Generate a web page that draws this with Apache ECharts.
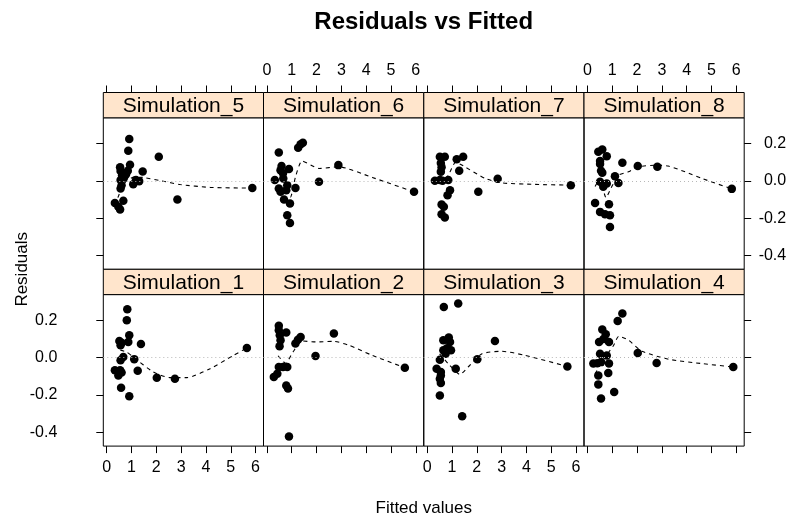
<!DOCTYPE html>
<html>
<head>
<meta charset="utf-8">
<script src="https://cdn.jsdelivr.net/npm/echarts@6/dist/echarts.min.js"></script>
<style>
html, body { margin: 0; background: #fff; }
#chart { width: 800px; height: 520px; }
</style>
</head>
<body>
<div id="chart"></div>
<script>
// panels as laid out: top row then bottom row
var topRow = ['Simulation_5', 'Simulation_6', 'Simulation_7', 'Simulation_8'];
var bottomRow = ['Simulation_1', 'Simulation_2', 'Simulation_3', 'Simulation_4'];
var xTicks = [0, 1, 2, 3, 4, 5, 6];
var yTicks = [-0.4, -0.2, 0, 0.2];

// residual points [fitted, residual]
var sim1Pts = [[0.83,0.259],[0.81,0.200],[0.91,0.120],[0.51,0.089],[0.87,0.084],[0.56,0.066],[1.38,0.073],[0.67,0.003],[1.11,-0.008],[0.56,-0.014],[5.65,0.052],[0.33,-0.068],[0.54,-0.068],[1.25,-0.070],[0.47,-0.095],[2.02,-0.107],[2.75,-0.113],[0.58,-0.161],[0.91,-0.206],[0.60,-0.080],[0.60,0.080]];
var sim2Pts = [[0.48,0.170],[0.78,0.134],[0.48,0.146],[0.55,0.093],[0.51,0.061],[1.36,0.110],[1.15,0.075],[1.25,0.095],[2.70,0.129],[1.96,0.009],[5.56,-0.054],[0.82,-0.050],[0.48,-0.050],[0.65,-0.050],[0.42,-0.086],[0.28,-0.104],[0.78,-0.149],[0.85,-0.165],[0.89,-0.422],[0.52,0.120]];
var sim3Pts = [[0.67,0.271],[1.25,0.290],[2.73,0.089],[0.65,0.093],[0.87,0.107],[0.92,0.084],[0.65,0.039],[0.96,0.039],[0.74,0.021],[0.51,-0.011],[2.02,-0.009],[0.38,-0.059],[1.15,-0.059],[0.55,-0.077],[0.51,-0.113],[0.55,-0.136],[5.65,-0.047],[0.51,-0.202],[1.41,-0.313],[0.55,-0.095],[0.80,0.050]];
var sim4Pts = [[1.41,0.236],[1.22,0.196],[0.60,0.150],[0.74,0.125],[0.47,0.084],[0.87,0.084],[2.03,0.025],[0.51,0.021],[0.78,0.012],[0.24,-0.032],[0.55,-0.024],[0.87,-0.032],[2.79,-0.029],[5.88,-0.050],[0.84,-0.082],[0.44,-0.095],[0.44,-0.143],[1.08,-0.184],[0.55,-0.218],[0.65,0.100],[0.40,-0.030]];
var sim5Pts = [[0.91,0.224],[0.87,0.161],[2.10,0.129],[0.94,0.086],[0.54,0.072],[0.56,0.052],[0.85,0.054],[1.45,0.050],[0.70,0.018],[1.18,0.004],[0.56,0.004],[1.31,-0.002],[1.07,-0.018],[0.60,-0.023],[0.56,-0.041],[5.87,-0.038],[2.85,-0.100],[0.33,-0.118],[0.67,-0.107],[0.54,-0.153],[0.47,-0.139],[0.78,0.035],[0.62,0.030]];
var sim6Pts = [[0.48,0.152],[1.36,0.195],[1.45,0.204],[1.26,0.177],[2.88,0.084],[0.59,0.079],[0.89,0.063],[0.55,0.057],[0.65,0.040],[0.32,0.004],[0.66,0.013],[2.10,-0.005],[0.82,-0.023],[0.48,-0.041],[1.15,-0.038],[0.55,-0.059],[0.78,-0.050],[0.69,-0.100],[0.93,-0.121],[5.93,-0.059],[0.82,-0.184],[0.93,-0.225]];
var sim7Pts = [[0.51,0.129],[0.71,0.129],[1.19,0.116],[1.45,0.129],[0.58,0.072],[1.29,0.054],[0.55,0.048],[0.31,0.000],[0.51,0.004],[0.85,0.004],[0.92,-0.050],[0.82,-0.077],[2.84,0.011],[2.06,-0.059],[5.79,-0.023],[0.58,-0.127],[0.67,-0.139],[0.58,-0.179],[0.71,-0.196],[0.55,0.095],[0.62,0.000]];
var sim8Pts = [[0.60,0.168],[0.44,0.156],[0.78,0.132],[0.51,0.106],[0.51,0.090],[1.41,0.097],[2.03,0.079],[2.82,0.075],[0.55,0.054],[0.60,0.043],[1.11,0.025],[1.25,-0.011],[0.51,-0.005],[0.78,-0.014],[0.64,-0.032],[5.82,-0.043],[0.31,-0.118],[0.87,-0.125],[0.51,-0.166],[0.71,-0.179],[0.91,-0.184],[0.91,-0.247]];

// smoother
var sim1Fit = [[0.55,0.04],[0.8,0.03],[1.07,0.003],[1.88,-0.077],[2.55,-0.107],[3.23,-0.107],[4.17,-0.059],[5.11,0.012],[5.65,0.052]];
var sim2Fit = [[0.45,0.01],[0.75,-0.03],[1.05,0.03],[1.42,0.089],[1.96,0.084],[2.70,0.087],[3.31,0.066],[4.25,0.012],[5.56,-0.054]];
var sim3Fit = [[0.5,0.02],[0.9,-0.04],[1.32,-0.090],[1.65,-0.050],[2.21,0.021],[3.01,0.034],[3.94,0.012],[5.65,-0.047]];
var sim4Fit = [[0.31,-0.086],[0.7,0.0],[1.06,0.066],[1.26,0.114],[1.66,0.093],[2.20,0.034],[3.28,-0.009],[4.62,-0.032],[5.88,-0.050]];
var sim5Fit = [[0.45,-0.09],[0.6,-0.04],[0.8,0.0],[1.1,0.02],[1.48,0.018],[2.2,0.0],[2.96,-0.02],[4.17,-0.035],[5.87,-0.039]];
var sim6Fit = [[0.75,-0.05],[0.95,-0.086],[1.15,0.02],[1.42,0.106],[2.10,0.066],[2.90,0.075],[4.25,0.018],[5.93,-0.059]];
var sim7Fit = [[0.4,0.01],[0.8,0.02],[1.15,0.10],[1.45,0.080],[2.33,0.013],[3.0,-0.011],[4.34,-0.019],[5.79,-0.023]];
var sim8Fit = [[0.31,-0.03],[0.5,0.01],[0.75,-0.09],[0.95,-0.04],[1.25,0.03],[1.65,0.048],[2.05,0.075],[2.79,0.084],[3.26,0.079],[3.94,0.048],[4.61,0.013],[5.82,-0.043]];

var points = {
  Simulation_1: sim1Pts, Simulation_2: sim2Pts, Simulation_3: sim3Pts, Simulation_4: sim4Pts,
  Simulation_5: sim5Pts, Simulation_6: sim6Pts, Simulation_7: sim7Pts, Simulation_8: sim8Pts
};
var fits = {
  Simulation_1: sim1Fit, Simulation_2: sim2Fit, Simulation_3: sim3Fit, Simulation_4: sim4Fit,
  Simulation_5: sim5Fit, Simulation_6: sim6Fit, Simulation_7: sim7Fit, Simulation_8: sim8Fit
};

// layout
var colLeft = [103.3, 263.5, 423.8, 584];
var panelW = 160.2;
var rowTop = [92.5, 269.3];
var stripH = 25.3;
var plotH = 151.5;
var xMin = -0.137, xMax = 6.32;
var yMin = -0.473, yMax = 0.337;
var font = 'Liberation Sans, Arial, Helvetica, sans-serif';
var tickFont = 16;

var grid = [], xAxis = [], yAxis = [], series = [], graphic = [];

function addPanel(name, r, c) {
  var gi = grid.length;
  // plot area
  grid.push({
    left: colLeft[c], top: rowTop[r] + stripH, width: panelW, height: plotH,
    show: true, borderColor: '#000', borderWidth: 1, backgroundColor: 'transparent',
    containLabel: false, outerBoundsMode: 'none'
  });
  var showXLab = r == 1 && (c == 0 || c == 2);
  xAxis.push({
    gridIndex: gi, type: 'value', min: xMin, max: xMax, position: 'bottom',
    axisLine: { show: false, onZero: false }, splitLine: { show: false },
    axisTick: { show: r == 1, length: 7, lineStyle: { color: '#000' }, customValues: xTicks },
    axisLabel: { show: showXLab, color: '#000', fontSize: tickFont, fontFamily: font, margin: 13, customValues: xTicks }
  });
  var showY = c == 0 || c == 3;
  var showYLab = (c == 0 && r == 1) || (c == 3 && r == 0);
  yAxis.push({
    gridIndex: gi, type: 'value', min: yMin, max: yMax, position: c == 3 ? 'right' : 'left',
    show: showY,
    axisLine: { show: false, onZero: false }, splitLine: { show: false },
    axisTick: { show: true, length: 7, lineStyle: { color: '#000' }, customValues: yTicks },
    axisLabel: {
      show: showYLab, color: '#000', fontSize: tickFont, fontFamily: font,
      align: 'right', margin: c == 3 ? 42 : 46, customValues: yTicks,
      formatter: function (v) { return v.toFixed(1); }
    }
  });
  series.push({
    type: 'line', xAxisIndex: gi, yAxisIndex: gi, data: fits[name],
    symbol: 'none', smooth: 0.2, silent: true, z: 2,
    lineStyle: { color: '#000', width: 1.1, type: [4, 4] }
  });
  series.push({
    type: 'scatter', xAxisIndex: gi, yAxisIndex: gi, data: points[name],
    symbolSize: 8.5, itemStyle: { color: '#000', opacity: 1 }, z: 3,
    markLine: {
      silent: true, symbol: ['none', 'none'], label: { show: false },
      lineStyle: { color: '#b8b8b8', type: [1, 3], width: 1 },
      data: [{ yAxis: 0 }]
    }
  });

  // strip
  var si = grid.length;
  grid.push({
    left: colLeft[c], top: rowTop[r], width: panelW, height: stripH,
    show: true, borderColor: '#000', borderWidth: 1, backgroundColor: '#ffe5cc',
    containLabel: false, outerBoundsMode: 'none'
  });
  xAxis.push({
    gridIndex: si, type: 'value', min: xMin, max: xMax, position: 'top',
    axisLine: { show: false, onZero: false }, splitLine: { show: false },
    axisTick: { show: r == 0, length: 7, lineStyle: { color: '#000' }, customValues: xTicks },
    axisLabel: { show: r == 0 && (c == 1 || c == 3), color: '#000', fontSize: tickFont, fontFamily: font, margin: 14, customValues: xTicks }
  });
  yAxis.push({ gridIndex: si, type: 'value', min: 0, max: 1, show: false });
  graphic.push({
    type: 'text', z: 100,
    x: colLeft[c] + panelW / 2, y: rowTop[r] + stripH / 2 + 1,
    style: {
      text: name, fill: '#000', font: '21px ' + font,
      align: 'center', verticalAlign: 'middle', textAlign: 'center', textVerticalAlign: 'middle'
    }
  });
}

topRow.forEach(function (n, c) { addPanel(n, 0, c); });
bottomRow.forEach(function (n, c) { addPanel(n, 1, c); });

var midX = colLeft[0] + 2 * panelW;
graphic.push({
  type: 'text', z: 100, x: midX, y: 22,
  style: { text: 'Residuals vs Fitted', fill: '#000', font: 'bold 24px ' + font,
    align: 'center', verticalAlign: 'middle', textAlign: 'center', textVerticalAlign: 'middle' }
});
graphic.push({
  type: 'text', z: 100, x: midX, y: 508,
  style: { text: 'Fitted values', fill: '#000', font: '17px ' + font,
    align: 'center', verticalAlign: 'middle', textAlign: 'center', textVerticalAlign: 'middle' }
});
graphic.push({
  type: 'text', z: 100, x: 22, y: rowTop[1], rotation: Math.PI / 2,
  style: { text: 'Residuals', fill: '#000', font: '17px ' + font,
    align: 'center', verticalAlign: 'middle', textAlign: 'center', textVerticalAlign: 'middle' }
});

var chart = echarts.init(document.getElementById('chart'), null, { renderer: 'canvas' });
chart.setOption({
  animation: false,
  backgroundColor: '#fff',
  grid: grid,
  xAxis: xAxis,
  yAxis: yAxis,
  series: series,
  graphic: graphic
});
</script>
</body>
</html>
